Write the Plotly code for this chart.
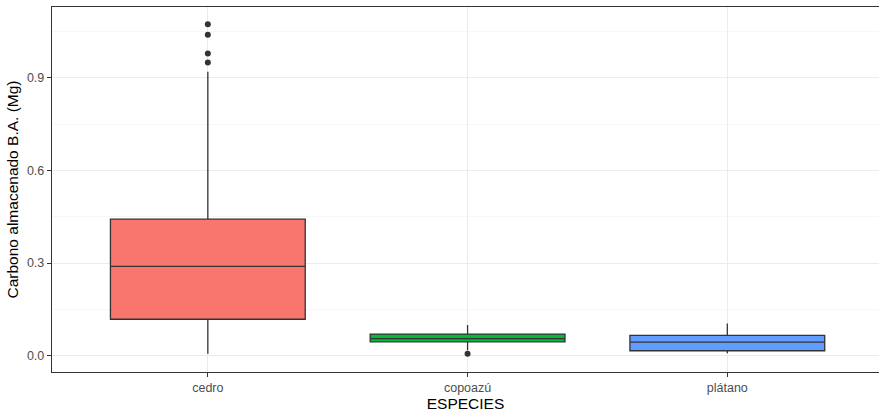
import plotly.graph_objects as go

categories = ["cedro", "copoazú", "plátano"]
q1 = [0.118, 0.045, 0.016]
median = [0.289, 0.055, 0.044]
q3 = [0.442, 0.070, 0.066]
lowerfence = [0.006, 0.018, 0.008]
upperfence = [0.919, 0.099, 0.104]
fill_colors = ["#F8766D", "#00BA38", "#619CFF"]

outlier_cat = ["cedro", "cedro", "cedro", "cedro", "copoazú"]
outlier_val = [1.073, 1.039, 0.978, 0.949, 0.006]

fig = go.Figure()
for i, c in enumerate(categories):
    fig.add_trace(go.Box(
        x=[c], q1=[q1[i]], median=[median[i]], q3=[q3[i]],
        lowerfence=[lowerfence[i]], upperfence=[upperfence[i]],
        fillcolor=fill_colors[i], line=dict(color="#333333", width=1.3),
        whiskerwidth=0, width=0.75, boxpoints=False, showlegend=False,
        hoverinfo="skip",
    ))

fig.add_trace(go.Scatter(
    x=outlier_cat, y=outlier_val, mode="markers",
    marker=dict(color="#333333", size=6), showlegend=False, hoverinfo="skip",
))

font = "Liberation Sans, Arial, sans-serif"
fig.update_layout(
    width=879, height=417,
    margin=dict(l=52, r=0, t=7, b=45, autoexpand=False),
    paper_bgcolor="white", plot_bgcolor="white",
    font=dict(family=font, color="#000000"),
    hovermode=False,
    xaxis=dict(
        type="category", categoryorder="array", categoryarray=categories,
        range=[-0.6, 2.584], automargin=False,
        showgrid=True, gridcolor="#EBEBEB", gridwidth=1,
        showline=True, linecolor="#333333", linewidth=1.2, mirror=True,
        ticks="outside", ticklen=4, tickcolor="#333333", tickwidth=1,
        tickfont=dict(size=12.5, color="#4D4D4D"),
        title=dict(text="ESPECIES", font=dict(size=15.5, color="#000000"), standoff=2),
        zeroline=False,
    ),
    yaxis=dict(
        range=[-0.0528, 1.1288], automargin=False,
        tickvals=[0.0, 0.3, 0.6, 0.9], ticktext=["0.0", "0.3", "0.6", "0.9"],
        showgrid=True, gridcolor="#EBEBEB", gridwidth=1,
        minor=dict(tickvals=[0.15, 0.45, 0.75, 1.05], showgrid=True,
                   gridcolor="#F2F2F2", gridwidth=0.6),
        showline=True, linecolor="#333333", linewidth=1.2, mirror=False,
        ticks="outside", ticklen=4, tickcolor="#333333", tickwidth=1,
        tickfont=dict(size=12.5, color="#4D4D4D"),
        title=dict(text="Carbono almacenado B.A. (Mg)", font=dict(size=15.5, color="#000000"), standoff=4),
        zeroline=False,
    ),
)

fig.write_html(
    "out.html",
    config={"displayModeBar": False, "staticPlot": True},
    post_script="document.body.style.margin='0';document.body.style.overflow='hidden';",
)
